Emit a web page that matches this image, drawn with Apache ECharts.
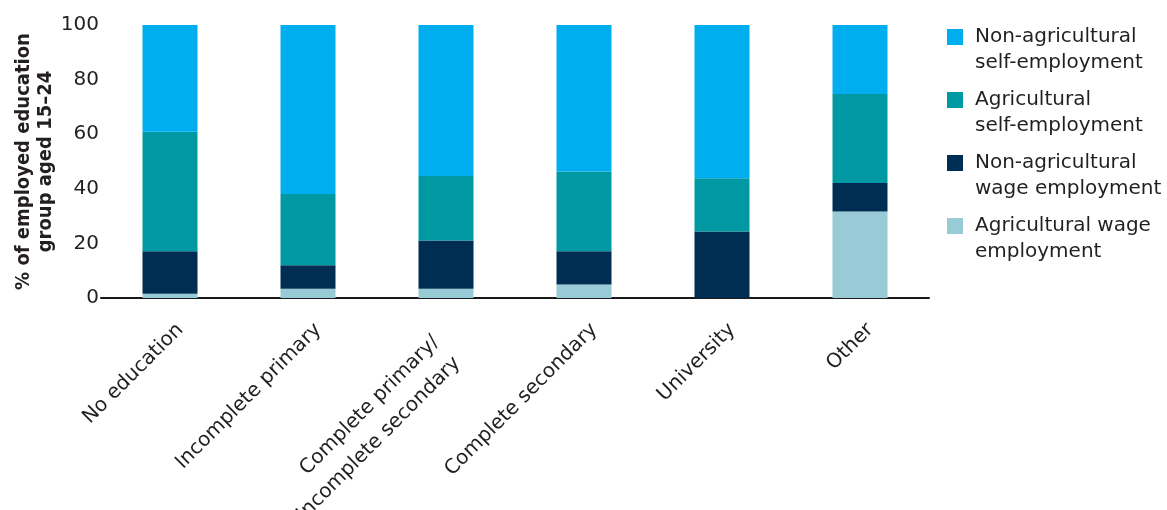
<!DOCTYPE html>
<html>
<head>
<meta charset="utf-8">
<script src="https://cdn.jsdelivr.net/npm/echarts@6/dist/echarts.min.js"></script>
<style>
html,body{margin:0;padding:0;background:#fff;}
#chart{width:1167px;height:510px;}
</style>
</head>
<body>
<div id="chart"></div>
<script>
var categories = ['No education', 'Incomplete primary', 'Complete primary/\nIncomplete secondary', 'Complete secondary', 'University', 'Other'];
var seriesNames = ['Agricultural wage\nemployment', 'Non-agricultural\nwage employment', 'Agricultural\nself-employment', 'Non-agricultural\nself-employment'];
var agriWage = [1.6, 3.4, 3.4, 4.9, 0, 31.7];
var nonAgriWage = [15.5, 8.6, 17.7, 12.2, 24.4, 10.4];
var agriSelf = [43.8, 26.1, 23.6, 29.2, 19.5, 32.6];
var nonAgriSelf = [39.1, 61.9, 55.3, 53.7, 56.1, 25.3];
var yTicks = [0, 20, 40, 60, 80, 100];

var colors = ['#98CBD5', '#002D52', '#0099A3', '#00AEEF'];
var values = [agriWage, nonAgriWage, agriSelf, nonAgriSelf];
var font = 'DejaVu Sans';
var textColor = '#231f20';
var legendIcon = 'path://M0,5L16,5L16,21L0,21Z M0,0L0.01,0L0.01,0.01Z M23,52L23.01,52L23.01,52.01Z';

var chart = echarts.init(document.getElementById('chart'), null, {renderer: 'canvas'});
chart.setOption({
  animation: false,
  backgroundColor: '#fff',
  grid: {left: 101, right: 238, top: 25, bottom: 212, containLabel: false, outerBoundsMode: 'none'},
  legend: {
    left: 942, top: 19, orient: 'vertical', itemGap: 11,
    itemWidth: 23, itemHeight: 52, icon: legendIcon,
    data: [seriesNames[3], seriesNames[2], seriesNames[1], seriesNames[0]],
    textStyle: {fontFamily: font, fontSize: 20, color: textColor, lineHeight: 26},
    selectedMode: false
  },
  xAxis: {
    type: 'category', data: categories,
    axisLine: {show: true, lineStyle: {color: '#1a1a1a', width: 2}},
    axisTick: {show: false},
    axisLabel: {
      rotate: 45, interval: 0, margin: 10,
      fontFamily: font, fontSize: 20, color: textColor,
      align: 'right', verticalAlign: 'top',
      formatter: function (v) {
        if (v.indexOf('\n') >= 0) {
          return v.split('\n').map(function (s) { return '{m|' + s + '}'; }).join('\n');
        }
        return '{s|' + v + '}';
      },
      rich: {
        s: {fontFamily: font, fontSize: 20, color: textColor, lineHeight: 26, padding: [15, 6, 0, 0]},
        m: {fontFamily: font, fontSize: 20, color: textColor, lineHeight: 30, padding: [0, 29, 0, 0]}
      }
    }
  },
  yAxis: {
    type: 'value', min: yTicks[0], max: yTicks[yTicks.length - 1], interval: 20,
    name: '% of employed education\ngroup aged 15\u201324',
    nameLocation: 'middle', nameRotate: 90, nameGap: 44, nameMoveOverlap: false,
    nameTextStyle: {fontFamily: '"DejaVu Sans Condensed", "DejaVu Sans", sans-serif', fontWeight: 'bold', fontSize: 20, color: textColor, lineHeight: 22},
    axisLine: {show: false}, axisTick: {show: false}, splitLine: {show: false},
    axisLabel: {margin: 2, fontFamily: font, fontSize: 20, color: textColor}
  },
  series: values.map(function (vals, i) {
    return {
      name: seriesNames[i], type: 'bar', stack: 'total', barWidth: 55,
      itemStyle: {color: colors[i]},
      data: vals
    };
  })
});
</script>
</body>
</html>
